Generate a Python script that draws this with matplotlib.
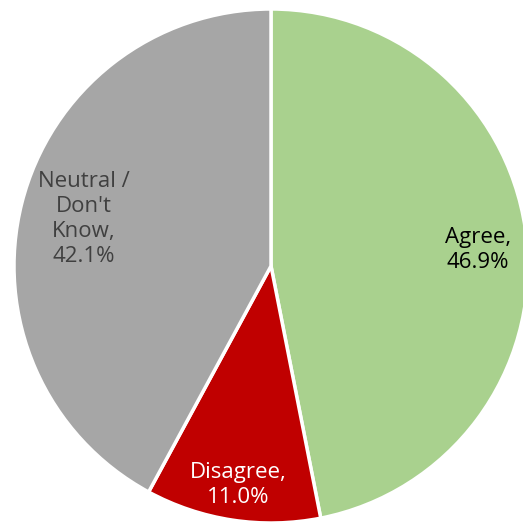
import numpy as np
import matplotlib
matplotlib.use("Agg")
import matplotlib.pyplot as plt

categories = ["Agree", "Disagree", "Neutral /\nDon't\nKnow"]
shares = [46.9, 11.0, 42.1]
colors = ["#A9D18E", "#C00000", "#A6A6A6"]
text_colors = ["#000000", "#FFFFFF", "#404040"]
label_dist = [0.81, 0.86, 0.75]
label_shift = [-4, 0, 0]  # small vertical nudges in pixels

W, H = 523, 525
fig = plt.figure(figsize=(W / 100, H / 100), dpi=100)
ax = fig.add_axes([0, 0, 1, 1])

cx, cy, r = 271, H - 266, 257
wedges, _ = ax.pie(shares, colors=colors, startangle=90, counterclock=False,
                   center=(cx, cy), radius=r, frame=True,
                   wedgeprops=dict(edgecolor="white", linewidth=2.5))
ax.set_xlim(0, W)
ax.set_ylim(0, H)
ax.set_aspect("auto")
ax.axis("off")

for w, cat, val, tc, d, s in zip(wedges, categories, shares, text_colors,
                                 label_dist, label_shift):
    mid = np.deg2rad((w.theta1 + w.theta2) / 2)
    x = cx + d * r * np.cos(mid)
    y = cy + d * r * np.sin(mid) + s
    ax.text(x, y, f"{cat},\n{val:.1f}%", ha="center", va="center",
            color=tc, fontsize=16, family="Open Sans", linespacing=1.25)

fig.savefig("out.png", dpi=100)
